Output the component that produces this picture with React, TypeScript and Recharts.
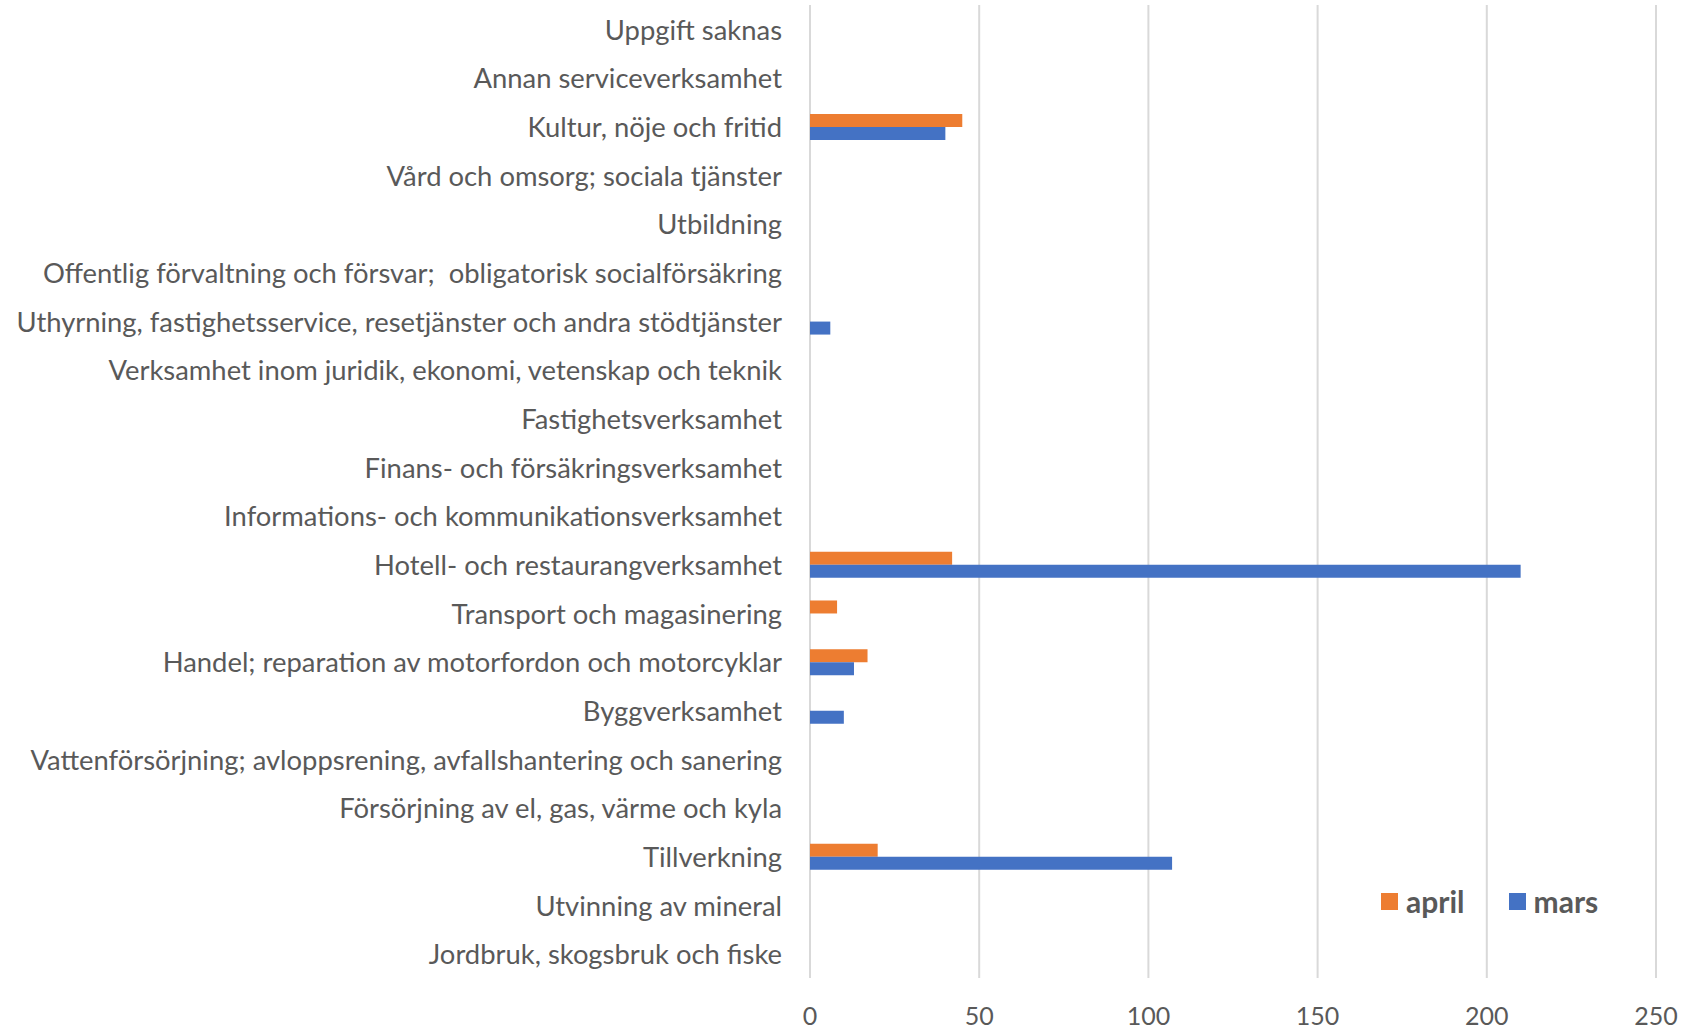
import React from 'react';
import { BarChart, Bar, XAxis, YAxis, CartesianGrid } from 'recharts';

const categories = [
  'Uppgift saknas',
  'Annan serviceverksamhet',
  'Kultur, nöje och fritid',
  'Vård och omsorg; sociala tjänster',
  'Utbildning',
  'Offentlig förvaltning och försvar;  obligatorisk socialförsäkring',
  'Uthyrning, fastighetsservice, resetjänster och andra stödtjänster',
  'Verksamhet inom juridik, ekonomi, vetenskap och teknik',
  'Fastighetsverksamhet',
  'Finans- och försäkringsverksamhet',
  'Informations- och kommunikationsverksamhet',
  'Hotell- och restaurangverksamhet',
  'Transport och magasinering',
  'Handel; reparation av motorfordon och motorcyklar',
  'Byggverksamhet',
  'Vattenförsörjning; avloppsrening, avfallshantering och sanering',
  'Försörjning av el, gas, värme och kyla',
  'Tillverkning',
  'Utvinning av mineral',
  'Jordbruk, skogsbruk och fiske',
];

const april = [0, 0, 45, 0, 0, 0, 0, 0, 0, 0, 0, 42, 8, 17, 0, 0, 0, 20, 0, 0];
const mars = [0, 0, 40, 0, 0, 0, 6, 0, 0, 0, 0, 210, 0, 13, 10, 0, 0, 107, 0, 0];

const xTicks = [0, 50, 100, 150, 200, 250];

const series = [
  { key: 'april', name: 'april', color: '#ED7D31' },
  { key: 'mars', name: 'mars', color: '#4472C4' },
];

const data = categories.map((name, i) => ({ name, april: april[i], mars: mars[i] }));

const FONT = 'Lato, "Noto Sans", sans-serif';
const TEXT = '#595959';

// y-axis labels, kept as one line with spaces preserved
const CategoryTick = (props: any) => {
  const { x, y, payload } = props;
  return (
    <text x={x} y={y} textAnchor="end" dominantBaseline="central" fill={TEXT}
      fontSize={27.4} fontFamily={FONT} style={{ whiteSpace: 'pre' }}>
      {payload.value}
    </text>
  );
};

export default function App() {
  return (
    <div style={{ position: 'absolute', left: 0, top: 0, width: 1683, height: 1030, background: '#fff' }}>
      <BarChart
        width={1683}
        height={1030}
        data={data}
        layout="vertical"
        margin={{ top: 5, right: 27, left: 0, bottom: 12 }}
        barCategoryGap="24%"
        barGap={0}
      >
        <CartesianGrid horizontal={false} vertical stroke="#d9d9d9" strokeWidth={2} />
        <XAxis
          type="number"
          domain={[0, 250]}
          ticks={xTicks}
          axisLine={false}
          tickLine={false}
          tickSize={0}
          tickMargin={29}
          height={40}
          tick={{ fill: TEXT, fontSize: 25, fontFamily: FONT }}
        />
        <YAxis
          type="category"
          dataKey="name"
          width={810}
          axisLine={false}
          tickLine={false}
          tickSize={0}
          tickMargin={28}
          interval={0}
          tick={<CategoryTick />}
        />
        {series.map((s) => (
          <Bar key={s.key} dataKey={s.key} name={s.name} fill={s.color} isAnimationActive={false} />
        ))}
      </BarChart>
      <div style={{ position: 'absolute', left: 1381, top: 883, display: 'flex', alignItems: 'center', fontFamily: FONT, fontWeight: 700, fontSize: 30, color: TEXT }}>
        {series.map((s, i) => (
          <div key={s.key} style={{ display: 'flex', alignItems: 'center', marginLeft: i === 0 ? 0 : 44 }}>
            <span style={{ width: 17, height: 17, background: s.color, display: 'inline-block', marginRight: 8 }} />
            <span>{s.name}</span>
          </div>
        ))}
      </div>
    </div>
  );
}
